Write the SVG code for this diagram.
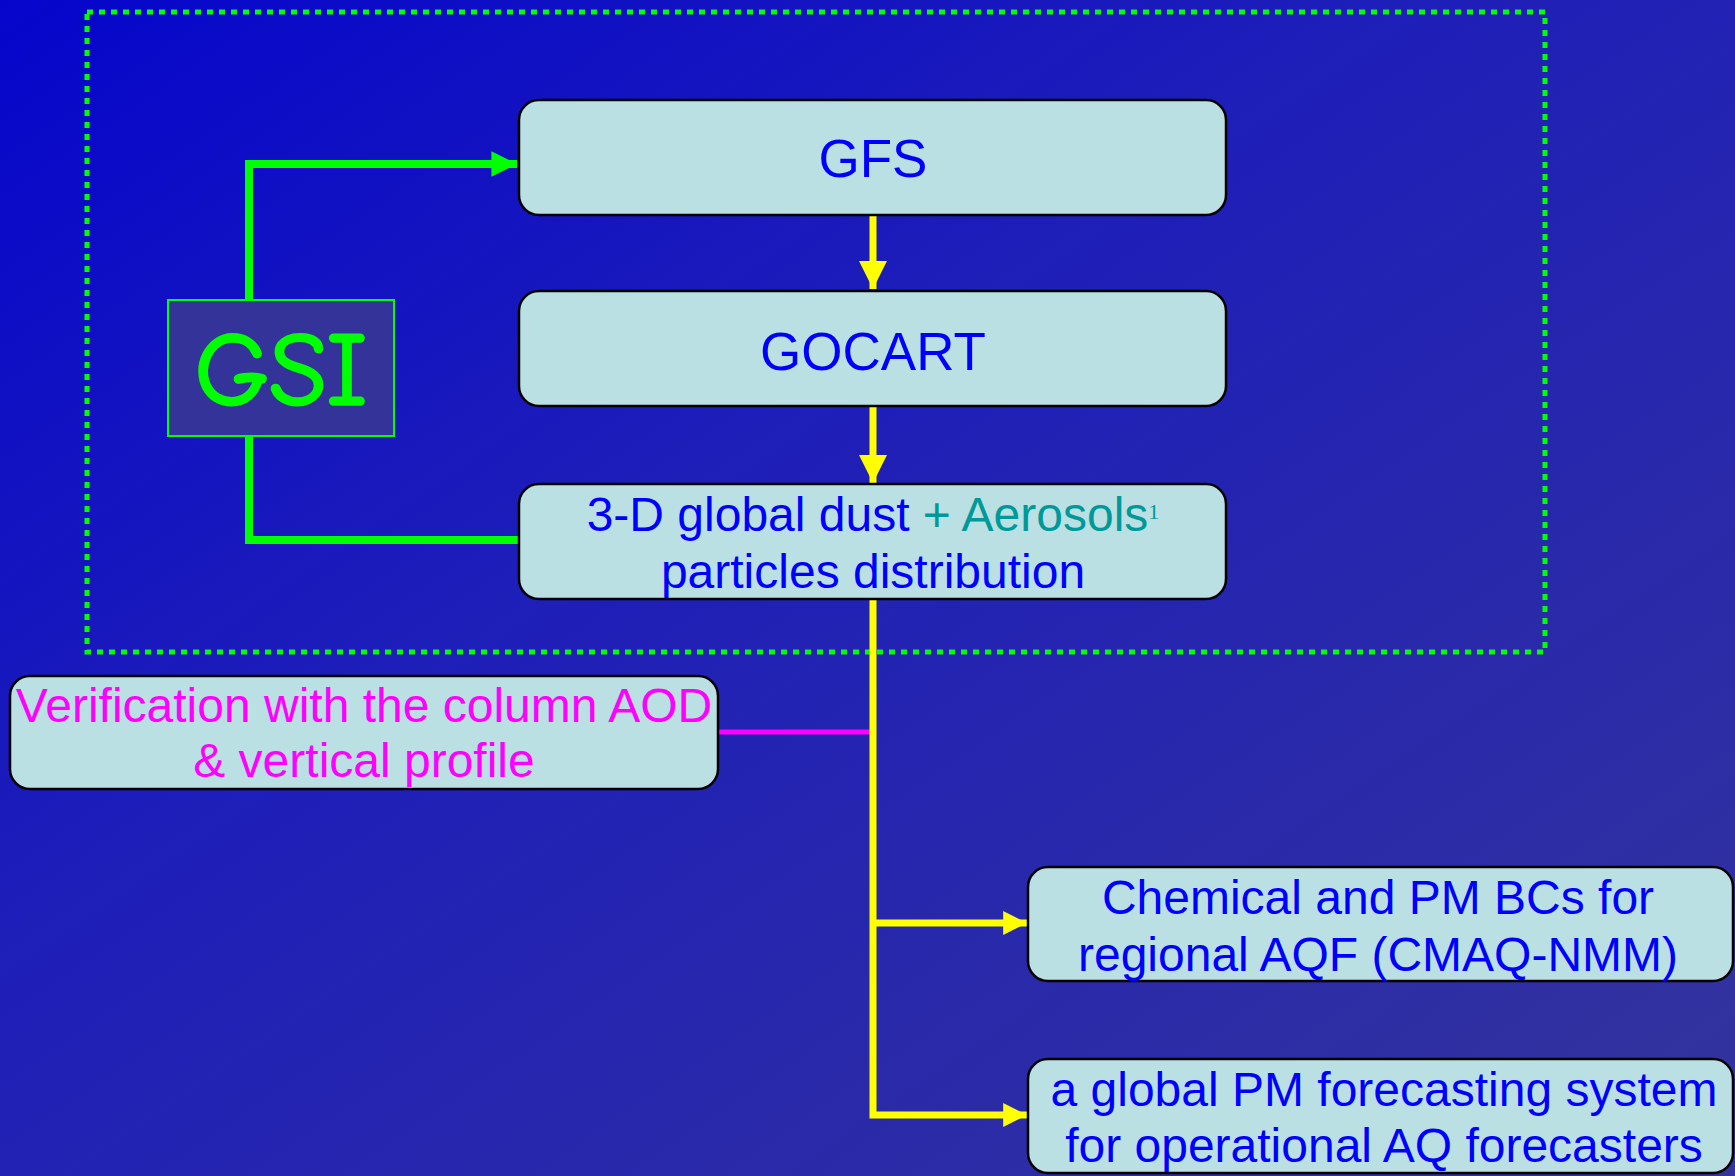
<svg xmlns="http://www.w3.org/2000/svg" width="1735" height="1176" viewBox="0 0 1735 1176">
<defs>
<linearGradient id="bg" x1="0" y1="0" x2="1" y2="1">
<stop offset="0" stop-color="#0505cc"/>
<stop offset="0.4" stop-color="#1e1eb9"/>
<stop offset="1" stop-color="#34349c"/>
</linearGradient>
<marker id="ya" viewBox="0 0 10 10" refX="10" refY="5" markerWidth="4.6" markerHeight="4" markerUnits="strokeWidth" orient="auto">
<path d="M0,0 L10,5 L0,10 Z" fill="#ffff00"/>
</marker>
<marker id="ga" viewBox="0 0 10 10" refX="10" refY="5" markerWidth="3.2" markerHeight="3.6" markerUnits="strokeWidth" orient="auto">
<path d="M0,0 L10,5 L0,10 Z" fill="#00ff00"/>
</marker>
<marker id="ya2" viewBox="0 0 10 10" refX="10" refY="5" markerWidth="3.6" markerHeight="3.4" markerUnits="strokeWidth" orient="auto">
<path d="M0,0 L10,5 L0,10 Z" fill="#ffff00"/>
</marker>
</defs>
<style>
.box{fill:#bae0e3;stroke:#000;stroke-width:2.5}
.t{font-family:"Liberation Sans",Arial,sans-serif;font-size:48px;fill:#0000ff;text-anchor:middle}
.big{font-size:53px}
.mag{fill:#ff00ff}
.teal{fill:#009999}
.y{stroke:#ffff00;stroke-width:7;fill:none}
.g{stroke:#00ff00;stroke-width:8;fill:none}
</style>
<rect width="1735" height="1176" fill="url(#bg)"/>
<rect id="frame" x="87" y="12" width="1458" height="640" fill="none" stroke="#00ff00" stroke-width="5" stroke-dasharray="6 6"/>
<g id="connectors">
<path class="g" d="M249,300 V164 H517" marker-end="url(#ga)"/>
<path class="g" d="M249,436 V540 H519"/>
<path class="y" d="M873,215 V289" marker-end="url(#ya)"/>
<path class="y" d="M873,406 V483" marker-end="url(#ya)"/>
<path d="M718,732 H873" stroke="#ff00ff" stroke-width="5"/>
<path class="y" d="M873,599 V1115 H1027" marker-end="url(#ya2)"/>
<path class="y" d="M873,923 H1027" marker-end="url(#ya2)"/>
</g>
<g id="gsi">
<rect x="168" y="300" width="226" height="136" fill="#333399" stroke="#00ff00" stroke-width="2"/>
<text x="281" y="404" font-family="'Comic Sans MS','Comic Neue',cursive" font-size="104" fill="#00ff00" stroke="#00ff00" stroke-width="3" stroke-linejoin="round" stroke-linecap="round" text-anchor="middle">GSI</text>
</g>
<g id="gfs">
<rect class="box" x="519" y="100" width="707" height="115" rx="20"/>
<text class="t big" x="873" y="177">GFS</text>
</g>
<g id="gocart">
<rect class="box" x="519" y="291" width="707" height="115" rx="20"/>
<text class="t big" x="873" y="370">GOCART</text>
</g>
<g id="dust">
<rect class="box" x="519" y="484" width="707" height="115" rx="20"/>
<text class="t" x="873" y="531">3-D global dust <tspan class="teal">+ Aerosols</tspan><tspan class="teal" font-family="'Liberation Serif',serif" font-size="22" dy="-12">1</tspan></text>
<text class="t" x="873" y="588">particles distribution</text>
</g>
<g id="verification">
<rect class="box" x="10" y="676" width="708" height="113" rx="20"/>
<text class="t mag" x="364" y="722">Verification with the column AOD</text>
<text class="t mag" x="364" y="777">&amp; vertical profile</text>
</g>
<g id="bcs">
<rect class="box" x="1028" y="867" width="705" height="114" rx="20"/>
<text class="t" x="1378" y="914">Chemical and PM BCs for</text>
<text class="t" x="1378" y="971">regional AQF (CMAQ-NMM)</text>
</g>
<g id="global">
<rect class="box" x="1028" y="1059" width="705" height="114" rx="20"/>
<text class="t" x="1384" y="1106">a global PM forecasting system</text>
<text class="t" x="1384" y="1162">for operational AQ forecasters</text>
</g>
</svg>
